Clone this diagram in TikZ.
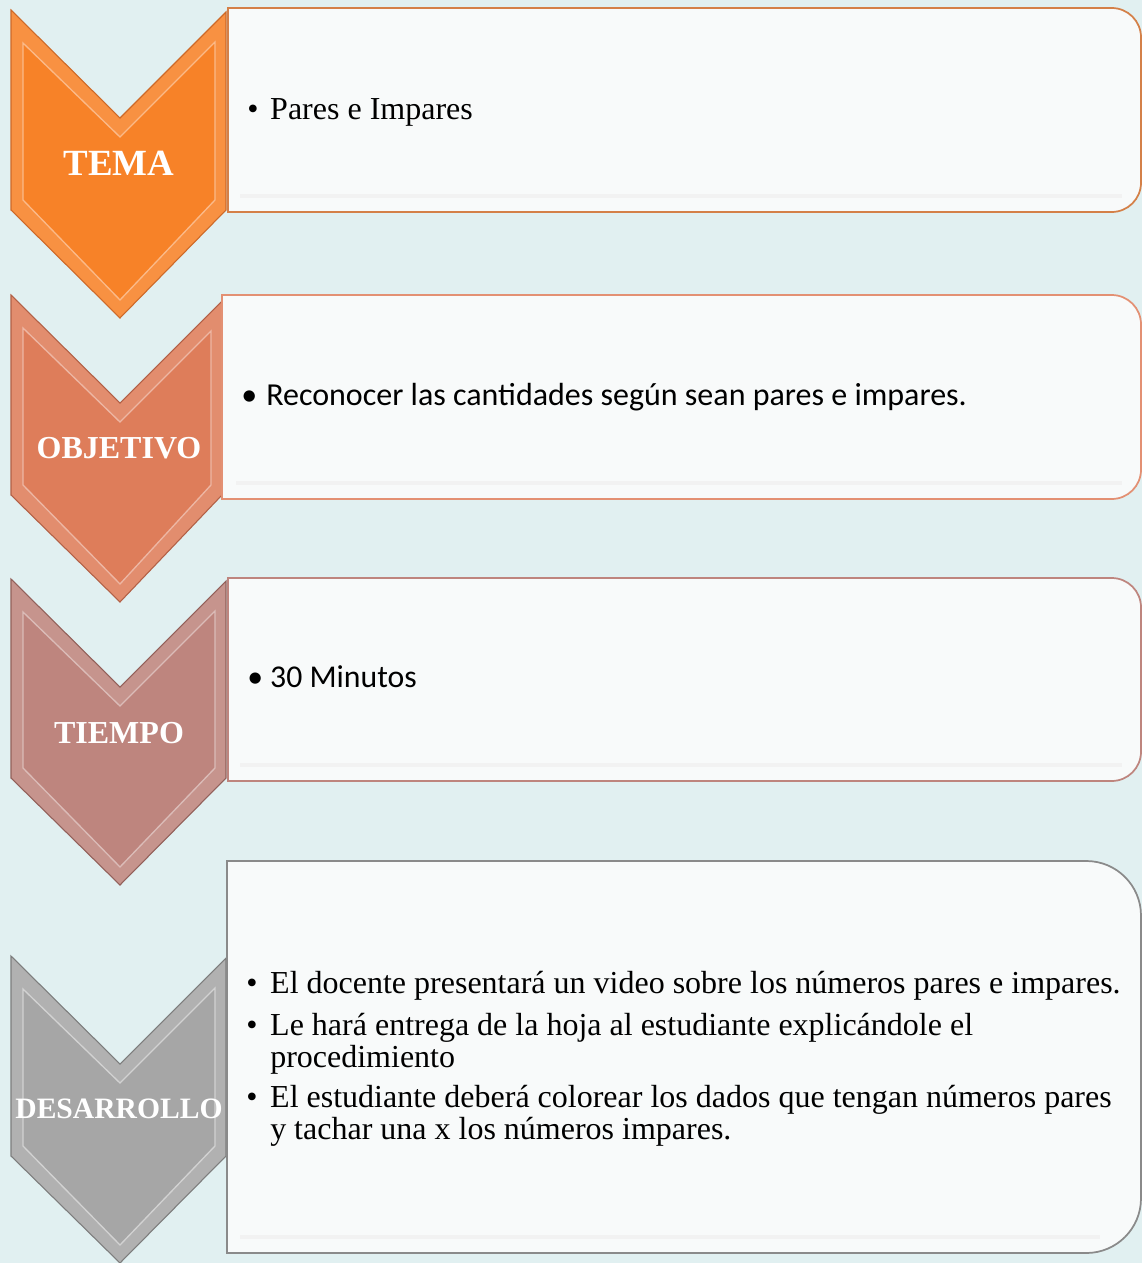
\documentclass[tikz,border=0pt]{standalone}
\usepackage{fontspec}
\setmainfont{Liberation Serif}
\newfontfamily\calibrifont{Carlito}
\usepackage{tikz}

\definecolor{bgcyan}{RGB}{225,240,241}
\definecolor{cardwhite}{RGB}{248,250,250}
\definecolor{temamain}{RGB}{247,130,40}
\definecolor{temaline}{RGB}{205,105,40}
\definecolor{objmain}{RGB}{222,125,90}
\definecolor{objline}{RGB}{178,96,70}
\definecolor{tiemain}{RGB}{190,133,126}
\definecolor{tieline}{RGB}{146,96,90}
\definecolor{desmain}{RGB}{166,166,166}
\definecolor{desline}{RGB}{125,125,125}

\begin{document}
\begin{tikzpicture}[x=0.75pt,y=-0.75pt,
  chevron/.style={line width=0.8pt},
  bevel/.style={line width=1pt},
  card/.style={fill=cardwhite,line width=1.3pt},
  shade line/.style={draw=black!5,line width=2.5pt},
  lbl/.style={text=white,anchor=base,inner sep=0pt},
  itm/.style={anchor=base west,inner sep=0pt}]
\useasboundingbox (0,0) rectangle (1142,1263);
\fill[bgcyan] (0,0) rectangle (1142,1263);

% TEMA
\draw[chevron,draw=temaline,fill=temamain!88!white] (11,10) -- (120,118) -- (226,12) -- (226,210) -- (120,318) -- (11,210) -- cycle;
\draw[bevel,draw=temamain!55!white,fill=temamain] (23,43) -- (120,137) -- (215,42) -- (215,200) -- (120,300) -- (23,200) -- cycle;
\node[lbl,font=\bfseries\fontsize{27.7}{30}\selectfont] (tema) at (119,175) {TEMA};
\draw[card,draw=temaline!85] (228,212) -- (228,8) [rounded corners=22pt] -- (1141,8) -- (1141,212) [sharp corners] -- (228,212) -- cycle;
\draw[shade line] (240,196) -- (1122,196);
\node[itm,font=\fontsize{24}{28}\selectfont] (tema-txt) at (247,119)
  {\makebox[17.25pt][l]{\textbullet}Pares e Impares};

% OBJETIVO
\draw[chevron,draw=objline,fill=objmain!88!white] (11,295) -- (120,403) -- (222,301) -- (222,495) -- (120,602) -- (11,495) -- cycle;
\draw[bevel,draw=objmain!55!white,fill=objmain] (23,328) -- (120,422) -- (211,331) -- (211,485) -- (120,584) -- (23,485) -- cycle;
\node[lbl,font=\bfseries\fontsize{24}{28}\selectfont] (objetivo) at (119,458) {OBJETIVO};
\draw[card,draw=objmain!85] (222,499) -- (222,295) [rounded corners=22pt] -- (1141,295) -- (1141,499) [sharp corners] -- (222,499) -- cycle;
\draw[shade line] (236,483) -- (1122,483);
\node[itm,font=\calibrifont\fontsize{24}{28}\selectfont] (objetivo-txt) at (241,405)
  {\makebox[18.75pt][l]{\textbullet}Reconocer las cantidades según sean pares e impares.};

% TIEMPO
\draw[chevron,draw=tieline,fill=tiemain!88!white] (11,579) -- (120,687) -- (226,581) -- (226,778) -- (120,885) -- (11,778) -- cycle;
\draw[bevel,draw=tiemain!55!white,fill=tiemain] (23,612) -- (120,706) -- (215,611) -- (215,768) -- (120,867) -- (23,768) -- cycle;
\node[lbl,font=\bfseries\fontsize{24}{28}\selectfont] (tiempo) at (119,743) {TIEMPO};
\draw[card,draw=tiemain] (228,781) -- (228,578) [rounded corners=22pt] -- (1141,578) -- (1141,781) [sharp corners] -- (228,781) -- cycle;
\draw[shade line] (240,765) -- (1122,765);
\node[itm,font=\calibrifont\fontsize{23.8}{28}\selectfont] (tiempo-txt) at (247,687)
  {\makebox[17.25pt][l]{\textbullet}30 Minutos};

% DESARROLLO
\draw[chevron,draw=desline,fill=desmain!88!white] (11,956) -- (120,1064) -- (226,958) -- (226,1156) -- (120,1263) -- (11,1156) -- cycle;
\draw[bevel,draw=desmain!50!white,fill=desmain] (23,989) -- (120,1083) -- (215,988) -- (215,1146) -- (120,1245) -- (23,1146) -- cycle;
\node[lbl,font=\bfseries\fontsize{22.2}{26}\selectfont] (desarrollo) at (119,1118) {DESARROLLO};
\draw[card,draw=desline!90] (227,1253) -- (227,861) [rounded corners=41pt] -- (1141,861) -- (1141,1253) [sharp corners] -- (227,1253) -- cycle;
\draw[shade line] (240,1237) -- (1100,1237);
\node[itm,font=\fontsize{24}{24.5}\selectfont] (paso-1) at (246,993)
  {\makebox[18pt][l]{\textbullet}El docente presentará un video sobre los números pares e impares.};
\node[itm,font=\fontsize{24}{24.5}\selectfont] (paso-2) at (246,1035)
  {\makebox[18pt][l]{\textbullet}\parbox[t]{650pt}{Le hará entrega de la hoja al estudiante explicándole el\\procedimiento}};
\node[itm,font=\fontsize{24}{24.5}\selectfont] (paso-3) at (246,1107)
  {\makebox[18pt][l]{\textbullet}\parbox[t]{650pt}{El estudiante deberá colorear los dados que tengan números pares\\y tachar una x los números impares.}};
\end{tikzpicture}
\end{document}
